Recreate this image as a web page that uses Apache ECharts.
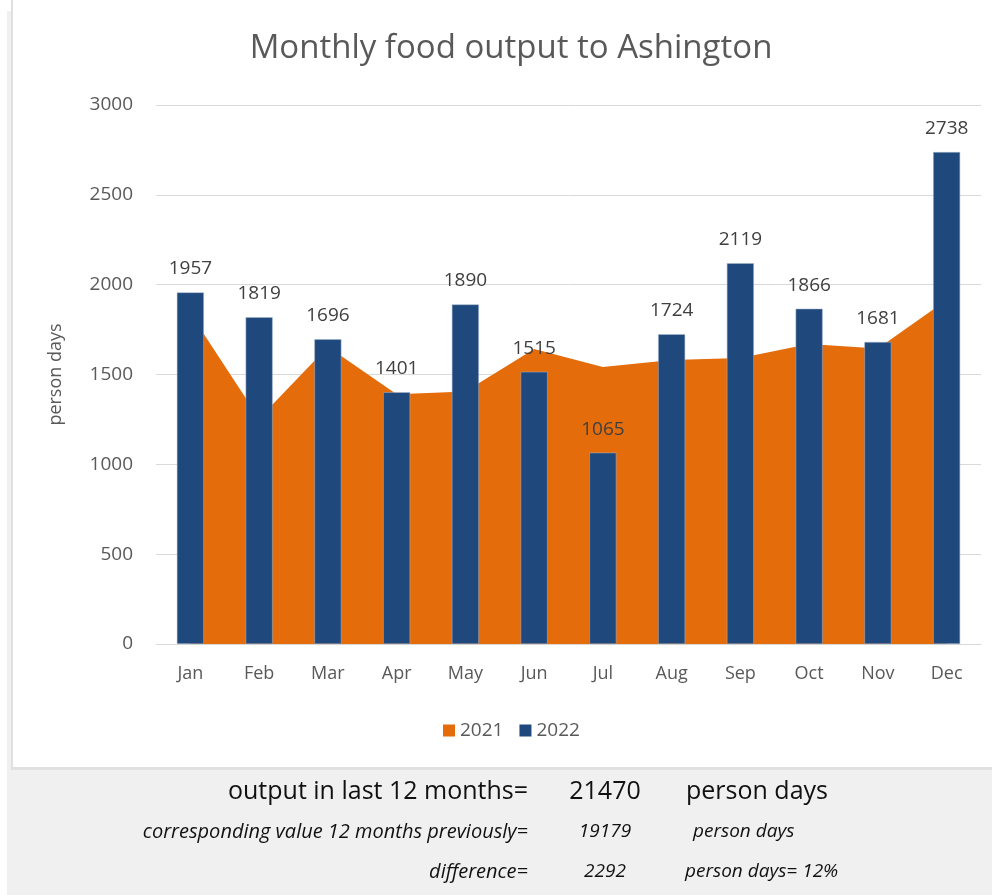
<!DOCTYPE html>
<html>
<head>
<meta charset="utf-8">
<script src="https://cdn.jsdelivr.net/npm/echarts@6/dist/echarts.min.js"></script>
<style>
  html, body { margin: 0; padding: 0; background: #ffffff; }
  #chart { width: 992px; height: 895px; }
</style>
</head>
<body>
<div id="chart"></div>
<script>
var months = ['Jan','Feb','Mar','Apr','May','Jun','Jul','Aug','Sep','Oct','Nov','Dec'];
var values2021 = [1840, 1255, 1655, 1390, 1405, 1642, 1542, 1581, 1592, 1670, 1645, 1915];
var values2022 = [1957, 1819, 1696, 1401, 1890, 1515, 1065, 1724, 2119, 1866, 1681, 2738];
var yTicks = { min: 0, max: 3000, interval: 500 };
var summaryRows = [
  ['output in last 12 months=', '21470', 'person days'],
  ['corresponding value 12 months previously=', '19179', 'person days'],
  ['difference=', '2292', 'person days= 12%']
];

var FONT = 'Open Sans';
var chart = echarts.init(document.getElementById('chart'), null, { renderer: 'canvas' });

var graphics = [
  { type: 'rect', z: -10, silent: true, shape: { x: 7, y: 11, width: 985, height: 884 }, style: { fill: '#f0f0f0' } },
  { type: 'rect', z: -9, silent: true, shape: { x: 11, y: 0, width: 981, height: 770 }, style: { fill: '#e0e0e0' } },
  { type: 'rect', z: -8, silent: true, shape: { x: 13, y: 0, width: 979, height: 767 }, style: { fill: '#ffffff' } }
];
var rowY = [792, 832, 872];
summaryRows.forEach(function (r, i) {
  var big = i === 0;
  var fs = big ? 25 : 19;
  var st = big ? 'normal' : 'italic';
  var f = st + ' ' + fs + 'px "' + FONT + '"';
  graphics.push({ type: 'text', x: 528, y: rowY[i], style: { text: r[0], fill: '#111', font: (big ? f : 'italic 20px "' + FONT + '"'), align: 'right', verticalAlign: 'middle' } });
  graphics.push({ type: 'text', x: 605, y: rowY[i], style: { text: r[1], fill: '#111', font: f, align: 'center', verticalAlign: 'middle' } });
  graphics.push({ type: 'text', x: [686, 693, 685][i], y: rowY[i], style: { text: r[2], fill: '#111', font: f, align: 'left', verticalAlign: 'middle' } });
});

var option = {
  animation: false,
  textStyle: { fontFamily: FONT },
  title: {
    text: 'Monthly food output to Ashington',
    left: 506, top: 27, textAlign: 'center',
    textStyle: { fontFamily: FONT, fontSize: 33, fontWeight: 'normal', color: '#595959' }
  },
  legend: {
    data: ['2021', '2022'],
    top: 716, left: 438,
    icon: 'rect', itemWidth: 12, itemHeight: 12, itemGap: 16,
    itemStyle: { borderWidth: 0 },
    textStyle: { fontFamily: FONT, fontSize: 19, color: '#595959' }
  },
  grid: { left: 156, right: 11, top: 105, bottom: 251, containLabel: false },
  xAxis: {
    type: 'category',
    data: months,
    axisLine: { lineStyle: { color: '#d9d9d9', width: 1 } },
    axisTick: { show: false },
    axisLabel: { fontFamily: FONT, fontSize: 18, color: '#595959', margin: 21 }
  },
  yAxis: {
    type: 'value',
    min: yTicks.min, max: yTicks.max, interval: yTicks.interval,
    name: 'person days', nameLocation: 'middle', nameRotate: 90, nameGap: 91,
    nameTextStyle: { fontFamily: FONT, fontSize: 18, color: '#595959' },
    axisLine: { show: false },
    axisTick: { show: false },
    axisLabel: { fontFamily: FONT, fontSize: 19, color: '#595959', margin: 23, formatter: function (v) { return String(v); } },
    splitLine: { lineStyle: { color: '#d9d9d9', width: 1 } }
  },
  series: [
    {
      name: '2021', type: 'line', data: values2021,
      showSymbol: false, symbol: 'none',
      lineStyle: { width: 0, color: '#E46C0A' },
      itemStyle: { color: '#E46C0A' },
      areaStyle: { color: '#E46C0A', opacity: 1 },
      z: 1
    },
    {
      name: '2022', type: 'bar', data: values2022, barWidth: 27,
      itemStyle: { color: '#1F497D', borderColor: '#a9b9cc', borderWidth: 0.5 },
      label: { show: true, position: 'top', distance: 14, fontFamily: FONT, fontSize: 19, color: '#404040' },
      z: 3
    }
  ],
  graphic: graphics
};
chart.setOption(option);
</script>
</body>
</html>
